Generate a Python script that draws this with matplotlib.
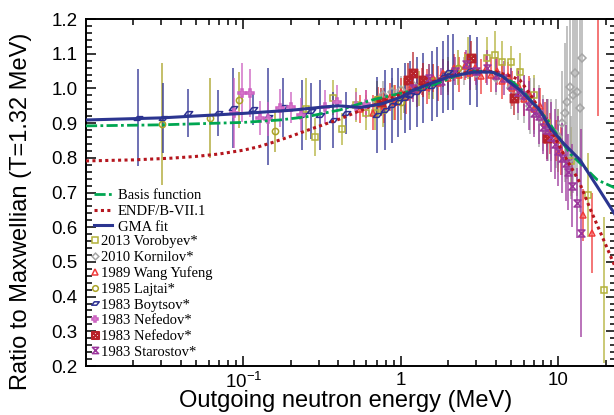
import numpy as np
import matplotlib
matplotlib.use('Agg')
import matplotlib.pyplot as plt
from matplotlib.path import Path
from matplotlib.ticker import MultipleLocator, LogLocator, NullFormatter

plt.rcParams['font.family'] = 'Liberation Sans'
plt.rcParams['mathtext.default'] = 'regular'

# evaluated curves
gma_e = [0.01, 0.03, 0.1, 0.2, 0.3, 0.4, 0.55, 0.75, 1.0, 1.2, 1.5, 2.0, 2.9, 3.8,
         4.4, 5.0, 5.7, 7.6, 8.9, 10.7, 13.7, 17.7, 23.2]
gma_r = [0.909, 0.915, 0.928, 0.937, 0.945, 0.950, 0.945, 0.955, 0.975, 0.995, 1.012,
         1.033, 1.047, 1.047, 1.035, 1.015, 0.995, 0.938, 0.885, 0.843, 0.794, 0.716, 0.632]

basis_e = [0.01, 0.03, 0.1, 0.17, 0.25, 0.41, 0.66, 1.09, 1.6, 2.2, 3.0, 4.0, 5.2,
           6.0, 7.0, 8.5, 10.0, 12.0, 13.7, 17.7, 23.2]
basis_r = [0.892, 0.895, 0.902, 0.909, 0.918, 0.938, 0.967, 0.99, 1.01, 1.035, 1.05,
           1.045, 1.016, 0.99, 0.955, 0.91, 0.86, 0.81, 0.785, 0.736, 0.712]

endf_e = [0.01, 0.02, 0.035, 0.05, 0.07, 0.1, 0.125, 0.15, 0.2, 0.25, 0.32, 0.41, 0.55,
          0.73, 1.09, 1.6, 2.2, 3.0, 4.0, 5.0, 5.7, 6.8, 8.3, 10.7, 13.4, 16.0, 19.0, 23.2]
endf_r = [0.791, 0.794, 0.799, 0.804, 0.811, 0.822, 0.832, 0.843, 0.862, 0.878, 0.895,
          0.912, 0.936, 0.958, 0.99, 1.02, 1.04, 1.05, 1.048, 1.035, 1.024, 0.975, 0.909,
          0.814, 0.736, 0.65, 0.572, 0.48]

# experimental data: energy (MeV), ratio, uncertainty
vor_e = [0.25, 0.284, 0.37, 0.42, 0.52, 0.60, 0.68, 0.77, 0.9, 1.05, 1.3, 1.6, 2.0,
         2.66, 3.5, 3.98, 4.4, 4.98, 5.7, 7.0, 8.5, 10.0, 12.0, 15.4, 19.5]
vor_r = [0.94, 0.86, 0.973, 0.883, 0.952, 0.93, 0.929, 0.938, 0.96, 0.98, 1.0, 1.02,
         1.04, 1.088, 1.088, 1.096, 1.076, 1.076, 1.047, 0.98, 0.9, 0.85, 0.79, 0.693, 0.42]
vor_d = [0.09, 0.055, 0.05, 0.045, 0.05, 0.05, 0.05, 0.05, 0.05, 0.05, 0.05, 0.05, 0.05,
         0.06, 0.06, 0.07, 0.06, 0.045, 0.055, 0.06, 0.07, 0.09, 0.1, 0.12, 0.21]

kor_e = [0.7, 0.77, 0.88, 1.0, 1.2, 1.5, 2.0, 2.5, 3.0, 4.0, 5.0, 5.5, 6.0, 6.6, 7.0,
         7.5, 8.0, 8.6, 9.0, 9.6, 10.0, 10.6, 11.0, 11.4, 11.8, 12.0, 12.4, 12.8, 13.2,
         13.7, 14.1]
kor_r = [0.96, 0.98, 0.99, 0.995, 1.01, 1.02, 1.04, 1.05, 1.045, 1.03, 1.0, 0.98, 0.97,
         0.95, 0.95, 0.92, 0.9, 0.88, 0.88, 0.87, 0.86, 0.9, 0.93, 0.96, 1.004, 0.8, 0.98,
         1.045, 0.99, 0.944, 1.088]
kor_d = [0.04, 0.04, 0.04, 0.04, 0.04, 0.04, 0.04, 0.04, 0.05, 0.05, 0.06, 0.07, 0.07,
         0.08, 0.08, 0.09, 0.08, 0.09, 0.09, 0.1, 0.08, 0.15, 0.2, 0.22, 0.25, 0.12, 0.28,
         0.3, 0.3, 0.3, 0.3]

wang_e = [0.55, 0.60, 0.66, 0.72, 0.78, 0.85, 0.92, 1.0, 1.08, 1.17, 1.26, 1.36, 1.47,
          1.59, 1.72, 1.86, 2.0, 2.17, 2.35, 2.54, 2.75, 2.97, 3.2, 3.47, 3.75, 4.05,
          4.4, 4.75, 5.1, 5.5, 6.0, 6.5, 7.0, 7.6, 8.2, 8.9, 9.6, 10.4, 14.3, 16.3, 17.8]
wang_r = [0.94, 0.955, 0.93, 0.965, 0.95, 0.975, 0.96, 0.99, 0.975, 1.01, 0.995, 1.02,
          1.005, 1.03, 1.015, 1.045, 1.03, 1.06, 1.04, 1.065, 1.045, 1.06, 1.035, 1.055,
          1.04, 1.05, 1.02, 1.035, 1.0, 1.01, 0.97, 0.985, 0.94, 0.95, 0.9, 0.87, 0.85,
          0.82, 0.635, 0.583, 1.25]
wang_d = [0.04, 0.04, 0.05, 0.04, 0.05, 0.04, 0.05, 0.04, 0.05, 0.04, 0.05, 0.04, 0.05,
          0.04, 0.05, 0.04, 0.05, 0.04, 0.05, 0.04, 0.05, 0.04, 0.05, 0.04, 0.05, 0.04,
          0.05, 0.04, 0.05, 0.05, 0.05, 0.05, 0.06, 0.05, 0.06, 0.06, 0.06, 0.07, 0.075,
          0.115, 0.33]

laj_e = [0.0304, 0.0614, 0.094, 0.158, 0.7, 1.0, 1.5, 2.3]
laj_r = [0.897, 0.915, 0.967, 0.877, 0.97, 0.96, 1.02, 1.06]
laj_d = [0.175, 0.115, 0.08, 0.06, 0.05, 0.05, 0.05, 0.05]

boy_e = [0.0214, 0.0308, 0.0444, 0.0689, 0.0857, 0.115, 0.143, 0.178, 0.235, 0.27,
         0.306, 0.37, 0.45, 0.705, 0.79, 0.88, 0.96, 1.06, 1.14, 1.27, 1.39, 1.58,
         1.70, 1.85, 1.99, 2.14, 2.74, 3.04]
boy_r = [0.915, 0.915, 0.929, 0.929, 0.944, 0.94, 0.918, 0.946, 0.923, 0.935, 0.923,
         0.909, 0.93, 0.923, 0.938, 0.952, 0.96, 0.972, 0.98, 0.99, 1.001, 1.007, 1.018,
         1.033, 1.047, 1.047, 1.053, 1.047]
boy_d = [0.14, 0.10, 0.07, 0.065, 0.115, 0.045, 0.14, 0.085, 0.10, 0.08, 0.10, 0.08,
         0.06, 0.11, 0.115, 0.108, 0.10, 0.10, 0.10, 0.10, 0.10, 0.10, 0.10, 0.105,
         0.108, 0.11, 0.10, 0.10]

nef1_e = [0.087, 0.098, 0.110, 0.127, 0.143, 0.17, 0.20, 0.232, 0.33, 0.39, 0.52, 0.6]
nef1_r = [0.929, 0.987, 0.987, 0.915, 0.912, 0.944, 0.946, 0.923, 0.946, 0.961, 0.95,
          0.955]
nef1_d = [0.1, 0.085, 0.07, 0.05, 0.05, 0.055, 0.045, 0.05, 0.05, 0.05, 0.04, 0.04]

nef2_e = [0.75, 1.11, 1.2, 1.39, 2.8, 5.2, 8.5]
nef2_r = [0.96, 1.024, 1.045, 1.024, 1.088, 0.972, 0.857]
nef2_d = [0.04, 0.05, 0.06, 0.05, 0.05, 0.05, 0.06]

sta_e = [1.2, 1.5, 1.8, 2.2, 2.6, 3.0, 3.5, 4.0, 4.5, 5.0, 5.5, 6.0, 6.5, 7.0, 7.5,
         8.0, 8.5, 9.0, 9.5, 10.0, 10.5, 11.1, 11.5, 12.2, 13.2, 14.0]
sta_r = [1.0, 1.03, 1.02, 1.05, 1.07, 1.05, 1.06, 1.04, 1.03, 1.01, 0.99, 0.98, 0.95,
         0.93, 0.92, 0.89, 0.88, 0.86, 0.84, 0.82, 0.8, 0.785, 0.76, 0.72, 0.67, 0.583]
sta_d = [0.04, 0.04, 0.04, 0.04, 0.04, 0.04, 0.05, 0.05, 0.05, 0.05, 0.06, 0.06, 0.07,
         0.07, 0.08, 0.08, 0.09, 0.1, 0.1, 0.1, 0.1, 0.11, 0.11, 0.12, 0.1, 0.3]

boy_marker = Path([(-1.0, -0.45), (0.3, -0.45), (1.0, 0.45), (-0.3, 0.45), (-1.0, -0.45)],
                  [Path.MOVETO, Path.LINETO, Path.LINETO, Path.LINETO, Path.CLOSEPOLY])
sta_marker = Path([(-1, -1), (1, -1), (-1, 1), (1, 1), (-1, -1)],
                  [Path.MOVETO, Path.LINETO, Path.LINETO, Path.LINETO, Path.CLOSEPOLY])

fig = plt.figure(figsize=(6.14, 4.15), dpi=100)
ax = fig.add_axes([86 / 614, 49 / 415, 530 / 614, 347 / 415])

datasets = [
    (vor_e, vor_r, vor_d, '#b3b23a', 's', 4.5, 'none', '2013 Vorobyev*'),
    (kor_e, kor_r, kor_d, '#a5a5a5', 'D', 3.8, 'none', '2010 Kornilov*'),
    (wang_e, wang_r, wang_d, '#f03a3a', '^', 4.5, 'none', '1989 Wang Yufeng'),
    (laj_e, laj_r, laj_d, '#aaa226', 'o', 4.5, 'none', '1985 Lajtai*'),
    (boy_e, boy_r, boy_d, '#2e3192', boy_marker, 6, 'none', '1983 Boytsov*'),
    (nef1_e, nef1_r, nef1_d, '#cc5fc0', 'P', 5.5, '#e39ad8', '1983 Nefedov*'),
    (nef2_e, nef2_r, nef2_d, '#b8222a', r'$\boxtimes$', 6, 'none', '1983 Nefedov*'),
    (sta_e, sta_r, sta_d, '#9b359b', sta_marker, 5, 'none', '1983 Starostov*'),
]

marker_handles = []
for e, r, d, c, m, ms, fc, lab in datasets:
    ax.errorbar(e, r, yerr=d, fmt='none', ecolor=c, elinewidth=1.3, alpha=0.75,
                capsize=0, zorder=1)
    h, = ax.plot(e, r, linestyle='none', marker=m, ms=ms, mfc=fc, mec=c, mew=1.1,
                 zorder=2, label=lab)
    marker_handles.append(h)

h1, = ax.plot(basis_e, basis_r, color='#00a651', lw=2.0, ls=(0, (4, 1.2, 1, 1.2)),
              zorder=3, label='Basis function')
h2, = ax.plot(endf_e, endf_r, color='#b5161e', lw=2.2, ls=(0, (1, 1.1)),
              zorder=3, label='ENDF/B-VII.1')
h3, = ax.plot(gma_e, gma_r, color='#2b3590', lw=2.2, zorder=4, label='GMA fit')

ax.set_xscale('log')
ax.set_xlim(0.01, 23.2)
ax.set_ylim(0.2, 1.2)
ax.set_xticks([0.1, 1, 10], ['10$^{-1}$', '1', '10'])
ax.xaxis.set_minor_locator(LogLocator(base=10, subs=np.arange(2, 10)))
ax.xaxis.set_minor_formatter(NullFormatter())
ax.set_yticks(np.arange(0.2, 1.21, 0.1), [f'{v:.1f}' for v in np.arange(0.2, 1.21, 0.1)])
ax.yaxis.set_minor_locator(MultipleLocator(0.02))
ax.tick_params(which='both', direction='in', top=True, right=True, width=1.1,
               labelsize=13.5)
ax.tick_params(which='major', length=7)
ax.tick_params(which='minor', length=4)
ax.tick_params(axis='y', pad=6)
ax.tick_params(axis='x', pad=4)
for s in ax.spines.values():
    s.set_linewidth(1.4)

ax.set_xlabel('Outgoing neutron energy (MeV)', fontsize=17, va='center')
ax.set_ylabel('Ratio to Maxwellian (T=1.32 MeV)', fontsize=17, va='center')
ax.xaxis.set_label_coords((346 - 86) / 530, (366 - 401) / 347)
ax.yaxis.set_label_coords((21 - 86) / 530, (366 - 211) / 347)

leg1 = ax.legend(handles=[h1, h2, h3], loc='upper left',
                 bbox_to_anchor=(94 / 614, 1 - 189 / 415), bbox_transform=fig.transFigure,
                 frameon=False, prop={'family': 'Liberation Serif', 'size': 10.5},
                 handlelength=1.2, handletextpad=0.45, labelspacing=0.17,
                 borderpad=0, borderaxespad=0)
ax.add_artist(leg1)
ax.legend(handles=marker_handles, loc='upper left',
          bbox_to_anchor=(92 / 614, 1 - 235 / 415), bbox_transform=fig.transFigure,
          frameon=False, prop={'family': 'Liberation Serif', 'size': 10.5},
          handlelength=0.45, handletextpad=0.15, labelspacing=0.17,
          borderpad=0, borderaxespad=0, markerscale=0.9)

fig.savefig('out.png', dpi=100)
